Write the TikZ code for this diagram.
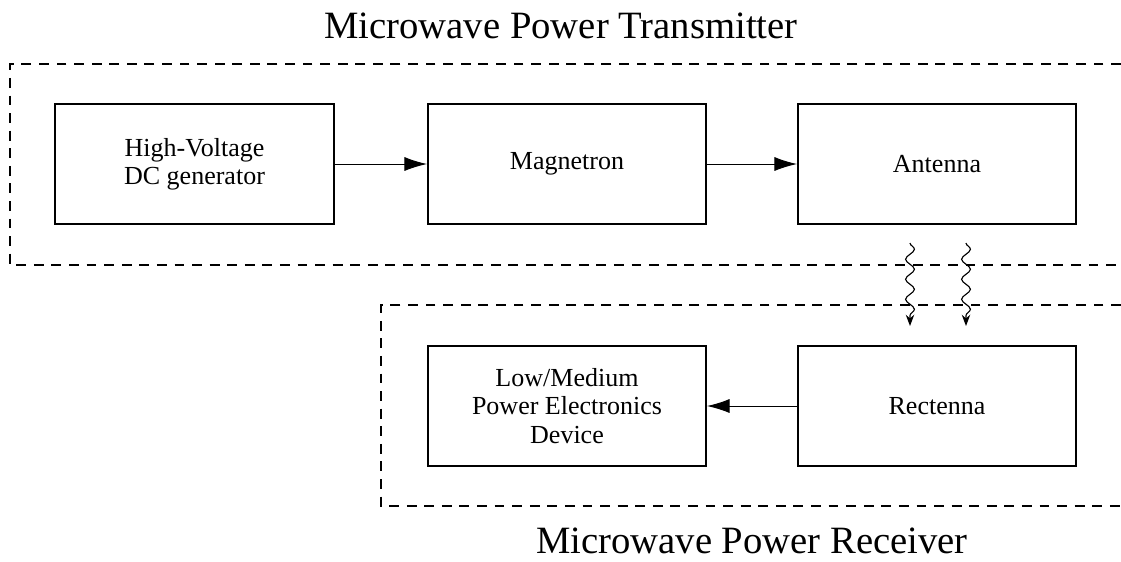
\documentclass[tikz,border=0pt]{standalone}
\usepackage{fontspec}
\setmainfont{Liberation Serif}
\usetikzlibrary{arrows.meta, positioning, decorations.pathmorphing}

\begin{document}
\begin{tikzpicture}[x=0.025cm, y=-0.025cm,
    block/.style={draw, line width=1.4pt, minimum width=6.95cm, minimum height=3cm, align=center, font=\fontsize{18.5}{20}\selectfont},
    title/.style={inner sep=0pt, font=\fontsize{27.5}{30}\selectfont},
    group/.style={line width=1.4pt, dash pattern=on 7pt off 5.5pt},
    flow/.style={line width=0.7pt, -{Latex[length=16pt, width=10pt]}},
    wave/.style={line width=0.8pt, -{Stealth[length=8pt, width=6pt]}, decorate, decoration={snake, amplitude=1.1mm, segment length=5mm, post length=2.5mm}}
  ]
    \useasboundingbox (0,0) rectangle (1121,561);

    % transmitter side
    \node[title] (txtitle) at (561,26) {Microwave Power Transmitter};
    \draw[group] (1121,64) -- (10,64) -- (10,265) -- (1121,265);
    \node[block] (hvdc) at (194.5,164) {High-Voltage\\DC generator};
    \node[block] (magnetron) at (567,164) {Magnetron};
    \node[block] (antenna) at (937,164) {Antenna};
    \draw[flow] (hvdc) -- (magnetron);
    \draw[flow] (magnetron) -- (antenna);

    % receiver side
    \draw[group] (1121,305) -- (381,305) -- (381,506) -- (1121,506);
    \node[block] (device) at (567,406) {Low/Medium\\Power Electronics\\Device};
    \node[block] (rectenna) at (937,406) {Rectenna};
    \draw[flow] (rectenna) -- (device);
    \node[title] (rxtitle) at (752,541) {Microwave Power Receiver};

    % radiated power
    \foreach \x/\n in {910/a, 966/b} {
      \coordinate (wave\n top) at (\x,243);
      \coordinate (wave\n end) at (\x,326);
      \draw[wave] (wave\n top) -- (wave\n end);
    }
  \end{tikzpicture}
\end{document}
